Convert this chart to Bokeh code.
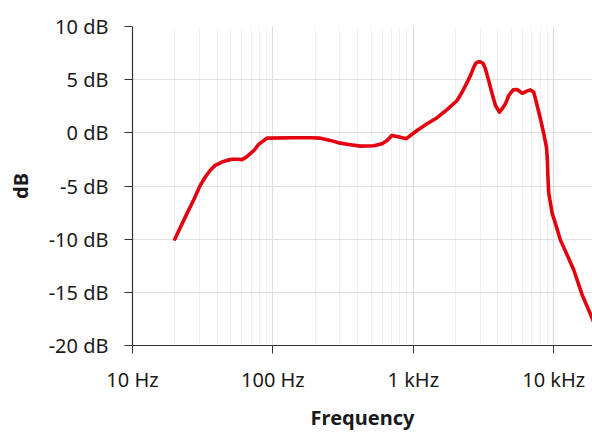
from bokeh.plotting import figure
from bokeh.models import FixedTicker, Range1d
from bokeh.embed import file_html
from bokeh.resources import INLINE

# Frequency response (Hz, dB)
freq_hz = [20, 24.4, 27.2, 30.4, 33.0, 35.8, 38.8, 43.4, 47.1, 51.1,
           55.5, 60.2, 64.6, 69.0, 74.0, 79.1, 85, 90.7, 140, 185,
           218, 256, 302, 356, 420, 522, 599, 650, 706, 794,
           892, 1063, 1253, 1476, 1738, 2050, 2223, 2415, 2550, 2692,
           2767, 2845, 2970, 3141, 3262, 3443, 3640, 3845, 4104, 4290,
           4529, 4779, 5138, 5484, 5955, 6381, 6823, 7206, 7617, 8035,
           8490, 8873, 9000, 9080, 9214, 9486, 9741, 10280, 11160, 12460,
           13890, 15940, 18780, 20000]
level_db = [-10.0, -7.6, -6.34, -4.93, -4.15, -3.52, -3.06, -2.75, -2.59, -2.49,
            -2.49, -2.52, -2.28, -1.96, -1.59, -1.09, -0.78, -0.5, -0.46, -0.46,
            -0.5, -0.71, -0.97, -1.12, -1.25, -1.21, -1.02, -0.71, -0.24, -0.4,
            -0.55, 0.22, 0.85, 1.42, 2.19, 3.04, 3.82, 4.75, 5.38, 6.16,
            6.48, 6.63, 6.69, 6.53, 6.01, 4.91, 3.67, 2.57, 1.94, 2.26,
            2.73, 3.51, 4.04, 4.07, 3.72, 3.91, 4.04, 3.82, 2.57, 1.32,
            -0.08, -1.34, -2.4, -4.0, -5.71, -6.65, -7.58, -8.52, -10.09, -11.49,
            -12.9, -15.24, -17.43, -18.3]

x_ticks = [10, 100, 1000, 10000]
x_tick_labels = ["10 Hz", "100 Hz", "1 kHz", "10 kHz"]
y_ticks = [-20, -15, -10, -5, 0, 5, 10]
y_tick_labels = ["-20 dB", "-15 dB", "-10 dB", "-5 dB", "0 dB", "5 dB", "10 dB"]

FONT = "Noto Sans"
TXT = "#1a1a1a"

p = figure(width=592, height=433, x_axis_type="log",
           x_range=Range1d(10, 18880), y_range=Range1d(-20, 10),
           output_backend="svg", toolbar_location=None,
           min_border_left=132, min_border_right=0, min_border_top=26,
           min_border_bottom=87)
p.outline_line_color = None
p.background_fill_color = "white"
p.border_fill_color = "white"

minor = []
for d in [10, 100, 1000, 10000]:
    for k in range(2, 10):
        minor.append(d * k)
p.xaxis.ticker = FixedTicker(ticks=x_ticks, minor_ticks=minor)
p.yaxis.ticker = FixedTicker(ticks=y_ticks)
p.xaxis.major_label_overrides = {t: s for t, s in zip(x_ticks, x_tick_labels)}
p.yaxis.major_label_overrides = {t: s for t, s in zip(y_ticks, y_tick_labels)}

for ax in (p.xaxis, p.yaxis):
    ax.axis_line_color = "#333333"
    ax.axis_line_width = 1.2
    ax.major_tick_line_color = "#333333"
    ax.major_tick_out = 8
    ax.major_tick_in = 0
    ax.minor_tick_out = 0
    ax.minor_tick_in = 0
    ax.major_label_text_font = FONT
    ax.major_label_text_font_size = "20px"
    ax.major_label_text_color = TXT
    ax.axis_label_text_font = FONT
    ax.axis_label_text_font_size = "20px"
    ax.axis_label_text_font_style = "bold"
    ax.axis_label_text_color = TXT

p.yaxis.major_label_standoff = 16
p.xaxis.major_label_standoff = 12
p.xaxis.axis_label = "Frequency"
p.yaxis.axis_label = "dB"
p.xaxis.axis_label_standoff = 8
p.yaxis.axis_label_standoff = 12

p.xgrid.grid_line_color = "#dddddd"
p.xgrid.minor_grid_line_color = "#f0f0f0"
p.ygrid.grid_line_color = "#e0e0e0"
p.xgrid.grid_line_width = 1.2
p.ygrid.grid_line_width = 1.2

p.line(freq_hz, level_db, line_color="#e3000f", line_width=3.6,
       line_join="round", line_cap="round")

open("out.html", "w").write(file_html(p, INLINE))
